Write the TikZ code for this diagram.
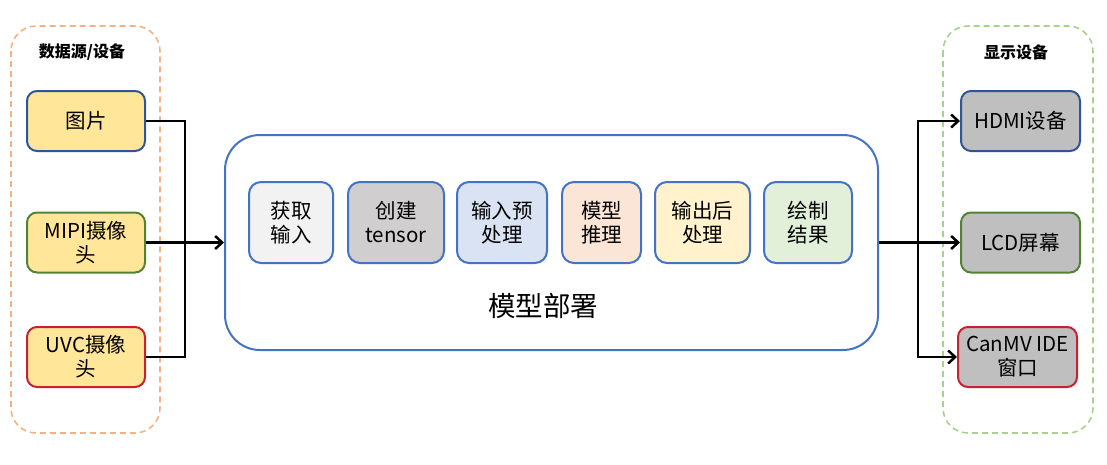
\documentclass[tikz,border=0pt]{standalone}
\usepackage{fontspec}
\setmainfont{Noto Sans CJK SC}
\usepackage{xcolor}
\usepackage{tikz}
\usetikzlibrary{arrows.meta}
\definecolor{srcline}{HTML}{F4B183}
\definecolor{displine}{HTML}{A9D18E}
\definecolor{bblue}{HTML}{2F5597}
\definecolor{bgreen}{HTML}{548235}
\definecolor{bred}{HTML}{C9202F}
\definecolor{mainblue}{HTML}{4472C4}
\definecolor{srcfill}{HTML}{FFE699}
\definecolor{dispfill}{HTML}{BFBFBF}

\begin{document}
\begin{tikzpicture}[x=1pt,y=-1pt,
    box/.style={draw, line width=2pt, rounded corners=10pt, minimum width=118pt,
        minimum height=60pt, align=center, inner sep=2pt, font=\fontsize{20.5}{24}\selectfont},
    stepbox/.style={draw=mainblue, line width=2pt, rounded corners=12pt,
        minimum height=81pt, align=center, inner sep=2pt, font=\fontsize{20.5}{24}\selectfont},
    panel/.style={dash pattern=on 6pt off 4pt, line width=1.6pt, rounded corners=25pt},
    link/.style={line width=2.5pt},
    arr/.style={link, -{Straight Barb[length=7pt,width=13pt]}}]
    \useasboundingbox (0,0) rectangle (1107,464);
    % 虚线分组框
    \draw[panel, srcline] (11,26) rectangle (160,433);
    \draw[panel, displine] (943,26) rectangle (1093,433);
    \node[font=\fontsize{16}{18}\selectfont\bfseries] (srctitle) at (82,52) {数据源/设备};
    \node[font=\fontsize{16}{18}\selectfont\bfseries] (disptitle) at (1016,52) {显示设备};
    % 输入源
    \node[box, draw=bblue, fill=srcfill] (img) at (86,121) {图片};
    \node[box, draw=bgreen, fill=srcfill] (mipi) at (86,242.5) {MIPI摄像\\头};
    \node[box, draw=bred, fill=srcfill] (uvc) at (86,357) {UVC摄像\\头};
    % 模型部署
    \node[draw=mainblue, line width=2pt, rounded corners=35pt, fill=white,
        minimum width=653pt, minimum height=215pt] (deploy) at (551.5,242.5) {};
    \node[font=\fontsize{27.5}{30}\selectfont] (deploylabel) at (543,306) {模型部署};
    \node[stepbox, fill=black!5, minimum width=84pt] (s1) at (291,222.5) {获取\\输入};
    \node[stepbox, fill={rgb,255:red,208;green,206;blue,206}, minimum width=96pt] (s2) at (396,222.5) {创建\\tensor};
    \node[stepbox, fill={rgb,255:red,218;green,227;blue,243}, minimum width=90pt] (s3) at (502,222.5) {输入预\\处理};
    \node[stepbox, fill={rgb,255:red,251;green,229;blue,214}, minimum width=79pt] (s4) at (601.5,222.5) {模型\\推理};
    \node[stepbox, fill={rgb,255:red,255;green,242;blue,204}, minimum width=95pt] (s5) at (702.5,222.5) {输出后\\处理};
    \node[stepbox, fill={rgb,255:red,226;green,240;blue,217}, minimum width=88pt] (s6) at (808,222.5) {绘制\\结果};
    % 显示设备
    \node[box, draw=bblue, fill=dispfill, minimum width=119pt] (hdmi) at (1020.5,121) {HDMI设备};
    \node[box, draw=bgreen, fill=dispfill, minimum width=119pt] (lcd) at (1020.5,242.5) {LCD屏幕};
    \node[box, draw=bred, fill=dispfill, minimum width=119pt] (canmv) at (1017.5,357) {CanMV IDE\\窗口};
    % 连线
    \coordinate (lj) at (185,242.5);
    \coordinate (rj) at (918,242.5);
    \draw[link] (img.east) -| (lj);
    \draw[link] (uvc.east) -| (lj);
    \draw[arr] (mipi.east) -- (deploy.west);
    \draw[link] (deploy.east) -- (rj);
    \draw[arr] (rj) |- (hdmi.west);
    \draw[arr] (rj) -- (lcd.west);
    \draw[arr] (rj) |- (canmv.west);
\end{tikzpicture}
\end{document}
